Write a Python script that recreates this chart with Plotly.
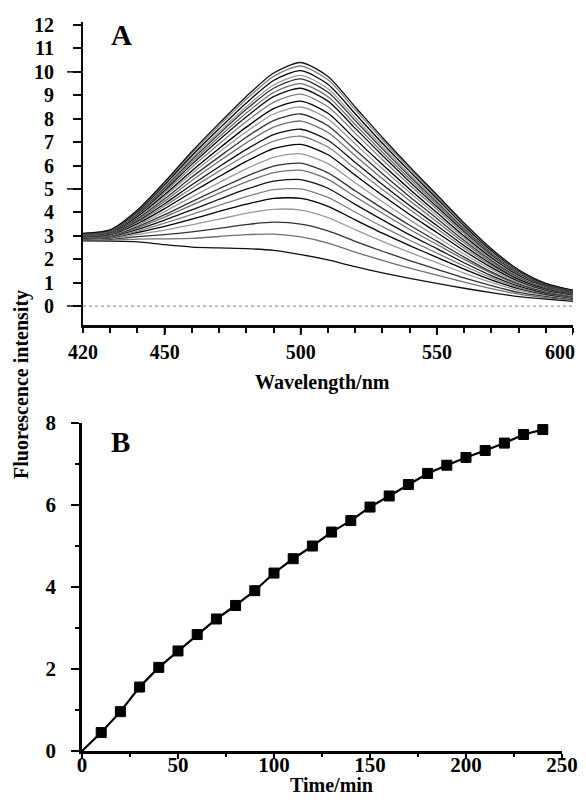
import plotly.graph_objects as go

# ---------------- Data ----------------
# Panel A: emission spectra recorded every 10 min (0-240 min)
wavelength_nm = [420, 430, 440, 450, 460, 470, 480, 490, 500, 510,
                 520, 530, 540, 550, 560, 570, 580, 590, 600]
spectra_time_min = [0, 10, 20, 30, 40, 50, 60, 70, 80, 90, 100, 110, 120,
                    130, 140, 150, 160, 170, 180, 190, 200, 210, 220, 230, 240]
spectra = [
    [2.78, 2.77, 2.74, 2.62, 2.52, 2.48, 2.45, 2.38, 2.20, 1.97, 1.68, 1.42, 1.18, 0.97, 0.76, 0.57, 0.40, 0.30, 0.20],
    [2.81, 2.81, 2.86, 2.87, 2.89, 2.97, 3.05, 3.07, 2.95, 2.69, 2.30, 1.95, 1.62, 1.32, 1.02, 0.74, 0.51, 0.36, 0.24],
    [2.83, 2.85, 2.96, 3.05, 3.17, 3.32, 3.48, 3.58, 3.50, 3.21, 2.76, 2.34, 1.94, 1.57, 1.20, 0.87, 0.58, 0.41, 0.28],
    [2.85, 2.88, 3.06, 3.24, 3.47, 3.71, 3.96, 4.13, 4.10, 3.78, 3.26, 2.76, 2.29, 1.85, 1.41, 1.01, 0.67, 0.46, 0.31],
    [2.87, 2.91, 3.14, 3.40, 3.71, 4.04, 4.35, 4.60, 4.60, 4.26, 3.68, 3.11, 2.58, 2.08, 1.58, 1.12, 0.74, 0.50, 0.34],
    [2.89, 2.93, 3.20, 3.54, 3.91, 4.30, 4.67, 4.97, 5.00, 4.64, 4.01, 3.39, 2.81, 2.26, 1.71, 1.21, 0.79, 0.53, 0.36],
    [2.90, 2.96, 3.27, 3.67, 4.11, 4.56, 4.99, 5.33, 5.40, 5.03, 4.34, 3.68, 3.04, 2.45, 1.85, 1.30, 0.85, 0.56, 0.39],
    [2.92, 2.98, 3.34, 3.80, 4.31, 4.82, 5.30, 5.70, 5.80, 5.41, 4.67, 3.96, 3.27, 2.63, 1.99, 1.40, 0.91, 0.59, 0.41],
    [2.93, 3.00, 3.39, 3.90, 4.46, 5.01, 5.54, 5.98, 6.10, 5.69, 4.92, 4.17, 3.45, 2.77, 2.09, 1.46, 0.95, 0.62, 0.43],
    [2.95, 3.02, 3.45, 4.03, 4.66, 5.27, 5.86, 6.35, 6.50, 6.08, 5.26, 4.45, 3.68, 2.95, 2.22, 1.56, 1.00, 0.65, 0.45],
    [2.96, 3.05, 3.52, 4.16, 4.86, 5.53, 6.18, 6.72, 6.90, 6.46, 5.59, 4.73, 3.91, 3.14, 2.36, 1.65, 1.06, 0.68, 0.48],
    [2.98, 3.07, 3.58, 4.27, 5.03, 5.76, 6.45, 7.04, 7.25, 6.79, 5.88, 4.98, 4.12, 3.30, 2.48, 1.73, 1.11, 0.71, 0.50],
    [2.99, 3.08, 3.63, 4.37, 5.18, 5.95, 6.69, 7.32, 7.55, 7.08, 6.13, 5.19, 4.29, 3.44, 2.58, 1.80, 1.15, 0.74, 0.51],
    [3.00, 3.10, 3.69, 4.48, 5.36, 6.18, 6.97, 7.64, 7.90, 7.41, 6.42, 5.44, 4.50, 3.60, 2.70, 1.88, 1.20, 0.77, 0.53],
    [3.01, 3.12, 3.74, 4.58, 5.51, 6.37, 7.21, 7.92, 8.20, 7.70, 6.67, 5.65, 4.67, 3.74, 2.80, 1.95, 1.24, 0.79, 0.55],
    [3.03, 3.14, 3.79, 4.68, 5.66, 6.57, 7.44, 8.20, 8.50, 7.99, 6.92, 5.86, 4.85, 3.87, 2.90, 2.01, 1.28, 0.82, 0.57],
    [3.04, 3.15, 3.83, 4.76, 5.78, 6.73, 7.64, 8.43, 8.75, 8.23, 7.13, 6.04, 4.99, 3.99, 2.99, 2.07, 1.32, 0.84, 0.58],
    [3.05, 3.17, 3.88, 4.86, 5.93, 6.92, 7.88, 8.70, 9.05, 8.51, 7.38, 6.25, 5.17, 4.13, 3.09, 2.14, 1.36, 0.86, 0.60],
    [3.06, 3.19, 3.92, 4.94, 6.05, 7.09, 8.08, 8.94, 9.30, 8.75, 7.59, 6.43, 5.31, 4.24, 3.18, 2.20, 1.40, 0.88, 0.62],
    [3.07, 3.20, 3.95, 5.01, 6.15, 7.22, 8.24, 9.12, 9.50, 8.94, 7.75, 6.57, 5.43, 4.34, 3.24, 2.24, 1.42, 0.90, 0.63],
    [3.07, 3.21, 3.98, 5.07, 6.25, 7.35, 8.40, 9.30, 9.70, 9.13, 7.92, 6.71, 5.54, 4.43, 3.31, 2.29, 1.45, 0.91, 0.64],
    [3.08, 3.22, 4.01, 5.12, 6.33, 7.44, 8.51, 9.44, 9.85, 9.28, 8.04, 6.81, 5.63, 4.50, 3.36, 2.32, 1.47, 0.93, 0.65],
    [3.09, 3.23, 4.04, 5.19, 6.43, 7.57, 8.67, 9.63, 10.05, 9.47, 8.21, 6.95, 5.75, 4.59, 3.43, 2.37, 1.50, 0.94, 0.66],
    [3.09, 3.24, 4.08, 5.25, 6.53, 7.70, 8.83, 9.81, 10.25, 9.66, 8.38, 7.09, 5.86, 4.68, 3.50, 2.42, 1.53, 0.96, 0.67],
    [3.10, 3.25, 4.10, 5.30, 6.60, 7.80, 8.95, 9.95, 10.40, 9.80, 8.50, 7.20, 5.95, 4.75, 3.55, 2.45, 1.55, 0.97, 0.68],
]

# Panel B: fluorescence increase vs time
time_min = [0, 10, 20, 30, 40, 50, 60, 70, 80, 90, 100, 110, 120,
            130, 140, 150, 160, 170, 180, 190, 200, 210, 220, 230, 240]
fl_increase = [0, 0.45, 0.96, 1.56, 2.04, 2.44, 2.84, 3.22, 3.55, 3.91, 4.34, 4.69, 5.00,
               5.34, 5.62, 5.95, 6.22, 6.50, 6.77, 6.97, 7.16, 7.33, 7.51, 7.72, 7.84]

A_yticks = [0, 1, 2, 3, 4, 5, 6, 7, 8, 9, 10, 11, 12]
A_ymajor = [0, 5, 10]
A_xticks = [420, 430, 440, 450, 460, 470, 480, 490, 500, 510,
            520, 530, 540, 550, 560, 570, 580, 590, 600]
A_xlabeled = ['420', '450', '500', '550']
A_xlast = 600
A_xmajor = [450, 500, 550, 600]

# ---------------- Styling ----------------
OFF = 8                      # page body margin
PW, PH = 570, 787            # figure size
FONT = "Liberation Serif"
AXIS_COLOR = '#0a0a0a'
curve_colors = ['#111111', '#707070', '#333333', '#9a9a9a', '#000000', '#808080']


def fx(p):
    return (p - OFF) / PW


def fy(p):
    return 1 - (p - OFF) / PH


fig = go.Figure()

for i, row in enumerate(spectra):
    fig.add_trace(go.Scatter(
        x=wavelength_nm, y=row, mode='lines',
        line=dict(color=curve_colors[i % len(curve_colors)], width=1.3,
                  shape='spline', smoothing=0.7),
        xaxis='x', yaxis='y', showlegend=False, hoverinfo='skip',
        name=f"{spectra_time_min[i]} min"))

marker_sizes = [0] + [10] * (len(time_min) - 1)
fig.add_trace(go.Scatter(
    x=time_min, y=fl_increase, mode='lines+markers',
    line=dict(color='black', width=2.2),
    marker=dict(symbol='square', size=marker_sizes, color='#000000', opacity=1,
                line=dict(color='#000000', width=1)),
    xaxis='x2', yaxis='y2', showlegend=False, cliponaxis=False))

tick_font_A = dict(family=FONT, size=20, color='black', weight='bold')
tick_font_B = dict(family=FONT, size=21, color='black', weight='bold')

A_x0_px, A_x1_px, A_ytop_px, A_ybot_px = 83, 573, 22, 325
A_xrange = [420, 600]
A_yrange = [-0.81, 12.13]

fig.update_layout(
    width=PW, height=PH,
    margin=dict(l=0, r=0, t=0, b=0),
    paper_bgcolor='white', plot_bgcolor='white',
    showlegend=False,
    xaxis=dict(domain=[fx(A_x0_px), fx(A_x1_px)], range=A_xrange, anchor='y',
               showline=True, linecolor=AXIS_COLOR, linewidth=2.5, layer='above traces',
               showgrid=False, zeroline=False,
               ticks='outside', tickmode='array', tickvals=A_xticks,
               ticktext=[str(v) if str(v) in A_xlabeled else '' for v in A_xticks],
               ticklen=5, tickwidth=2, tickcolor=AXIS_COLOR,
               ticklabelstandoff=2,
               tickfont=tick_font_A, automargin=False),
    yaxis=dict(domain=[fy(A_ybot_px), fy(A_ytop_px)], range=A_yrange, anchor='x',
               showline=True, linecolor=AXIS_COLOR, linewidth=2,
               showgrid=False, zeroline=False,
               ticks='outside', tickmode='array', tickvals=A_yticks,
               ticklen=8, tickwidth=1.5, tickcolor=AXIS_COLOR,
               ticklabelstandoff=15,
               tickfont=tick_font_A, automargin=False),
    xaxis2=dict(domain=[fx(82), fx(562)], range=[0, 250], anchor='y2',
                showline=True, linecolor='black', linewidth=2.5,
                showgrid=False, zeroline=False,
                ticks='outside', tick0=0, dtick=50,
                ticklen=5, tickwidth=2, tickcolor='black',
                ticklabelstandoff=-12, ticklabeloverflow='allow',
                minor=dict(ticks='outside', dtick=25, ticklen=3,
                           tickwidth=2, tickcolor='black', showgrid=False),
                tickfont=tick_font_B, automargin=False),
    yaxis2=dict(domain=[fy(751), fy(423)], range=[0, 8], anchor='x2',
                showline=True, linecolor='black', linewidth=2.5,
                showgrid=False, zeroline=False,
                ticks='outside', tick0=0, dtick=2,
                ticklen=8, tickwidth=2, tickcolor='black',
                ticklabelstandoff=11,
                minor=dict(ticks='outside', dtick=1, ticklen=4,
                           tickwidth=2, tickcolor='black', showgrid=False),
                tickfont=tick_font_B, automargin=False),
)

# dotted zero line in panel A
fig.add_shape(type='line', xref='x domain', yref='y', x0=0, x1=1, y0=0, y1=0,
              line=dict(color='#9a9a9a', width=1.2, dash='dot'))

# longer tick marks in panel A (at 0, 5, 10 and 450, 500, 550, 600)
for v in A_ymajor:
    fig.add_shape(type='line', xref='paper', xsizemode='pixel', xanchor=fx(A_x0_px),
                  x0=-16, x1=0, yref='y', y0=v, y1=v,
                  line=dict(color=AXIS_COLOR, width=1.5))
for v in A_xmajor:
    fig.add_shape(type='line', yref='paper', ysizemode='pixel', yanchor=fy(A_ybot_px),
                  y0=-10, y1=0, xref='x', x0=v, x1=v,
                  line=dict(color=AXIS_COLOR, width=2))

title_font = dict(family=FONT, size=20, color='black', weight='bold')
panel_font = dict(family=FONT, size=29, color='black', weight='bold')
annots = [
    dict(text='Fluorescence intensity', xref='paper', x=fx(22), y=fy(385),
         textangle=-90, font=title_font, xanchor='center'),
    dict(text='Wavelength/nm', xref='paper', x=fx(322), y=fy(382), font=title_font, xanchor='center'),
    dict(text='Time/min', xref='paper', x=fx(331), y=fy(785), font=title_font, xanchor='center'),
    dict(text='A', xref='paper', x=fx(121), y=fy(35), font=panel_font, xanchor='center'),
    dict(text='B', xref='paper', x=fx(120), y=fy(442), font=panel_font, xanchor='center'),
    # last x tick label of panel A, kept inside the page edge
    dict(text=str(A_xlast), xref='x', x=A_xlast, y=fy(352), font=tick_font_A,
         xanchor='right', xshift=4),
]
for a in annots:
    fig.add_annotation(yref='paper', showarrow=False, yanchor='middle', **a)

fig.write_html("out.html")
